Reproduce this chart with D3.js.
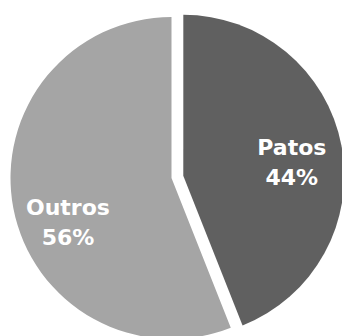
<!DOCTYPE html>
<html>
<head>
<meta charset="utf-8">
<script src="https://cdn.jsdelivr.net/npm/d3@7"></script>
<style>
  html, body { margin: 0; padding: 0; background: #fff; }
  svg { display: block; }
</style>
</head>
<body>
<div id="chart"></div>
<script>
// data
const categories = ['Patos', 'Outros'];
const values = [44, 56];
const colors = ['#606060', '#a5a5a5'];

const width = 342, height = 336;
const cx = 171.5, cy = 178, radius = 161;
const explode = [12, 0];
// label nudges, relative to the label arc centroid
const nudge = [[1, 15], [4, 31]];

const svg = d3.select('#chart')
    .append('svg')
    .attr('width', width)
    .attr('height', height);

const pie = d3.pie()
    .sort(null)
    .value(d => d);

const arc = d3.arc()
    .innerRadius(0)
    .outerRadius(radius);

const labelArc = d3.arc()
    .innerRadius(radius * 0.68)
    .outerRadius(radius * 0.68);

const total = d3.sum(values);
const arcs = pie(values);

const g = svg.append('g')
    .attr('transform', `translate(${cx},${cy})`);

const slices = g.selectAll('g.slice')
    .data(arcs)
    .enter()
    .append('g')
    .attr('class', 'slice')
    .attr('transform', (d, i) => {
        const mid = (d.startAngle + d.endAngle) / 2;
        return `translate(${Math.sin(mid) * explode[i]},${-Math.cos(mid) * explode[i]})`;
    });

slices.append('path')
    .attr('d', arc)
    .attr('fill', (d, i) => colors[i]);

const labels = slices.append('text')
    .attr('transform', (d, i) => {
        const c = labelArc.centroid(d);
        return `translate(${c[0] + nudge[i][0]},${c[1] + nudge[i][1]})`;
    })
    .attr('text-anchor', 'middle')
    .attr('fill', '#fff')
    .style('font-family', "'Gill Sans', 'DejaVu Sans', sans-serif")
    .style('font-weight', 'bold')
    .style('font-size', '22px');

labels.append('tspan')
    .attr('x', 0)
    .attr('y', -15)
    .text((d, i) => categories[i]);

labels.append('tspan')
    .attr('x', 0)
    .attr('y', 15)
    .text(d => Math.round(d.value / total * 100) + '%');
</script>
</body>
</html>
